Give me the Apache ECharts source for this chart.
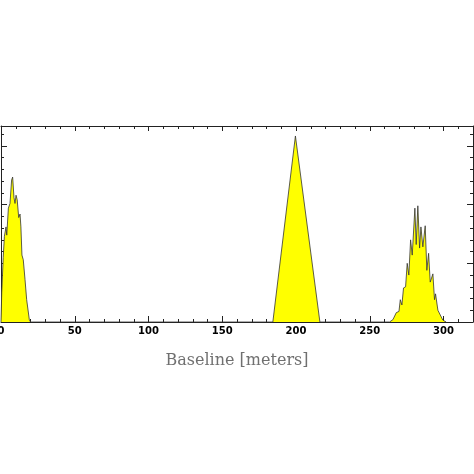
<!DOCTYPE html>
<html>
<head>
<meta charset="utf-8">
<script src="https://cdn.jsdelivr.net/npm/echarts@6/dist/echarts.min.js"></script>
<style>
  html, body { margin: 0; padding: 0; background: #fff; }
  #chart { width: 474px; height: 474px; }
</style>
</head>
<body>
<div id="chart"></div>
<script>
// baseline [m] and counts for the three clusters
const nearX = [0, 0.5, 1.5, 2.3, 3.4, 3.9, 5.0, 6.1, 7.2, 7.9, 8.8, 9.5, 10.2, 11.0, 12.0, 12.9, 13.5, 14.2, 15.1, 16.3, 17.4, 19.2, 20]
const nearY = [0, 2.5, 5.5, 7.3, 8.1, 7.4, 9.7, 10.1, 12.1, 12.35, 10.6, 10.1, 10.8, 10.4, 8.9, 9.2, 8.1, 5.7, 5.3, 3.6, 1.9, 0.2, 0]
const midX = [184.3, 199.6, 200.4, 216.2]
const midY = [0, 15.85, 15.85, 0]
const farX = [263.4, 265.7, 268.0, 269.8, 270.7, 271.8, 272.9, 274.3, 275.4, 276.5, 277.7, 278.8, 280.6, 281.5, 282.6, 283.8, 284.7, 286.0, 287.6, 288.7, 289.9, 291.0, 292.8, 293.9, 294.6, 296.2, 297.3, 299.5, 301.8]
const farY = [0, 0.2, 0.8, 0.9, 1.9, 1.45, 2.9, 3.0, 5.0, 4.0, 7.0, 5.7, 9.7, 6.6, 9.9, 6.3, 8.1, 6.4, 8.2, 4.4, 5.85, 3.4, 4.1, 1.9, 2.4, 1.0, 0.96, 0.17, 0]

const xTicksMajor = 50
const xTicksMinor = 10
const yTicksMajor = 5
const yTicksMinor = 1

const points = []
;[[nearX, nearY], [midX, midY], [farX, farY]].forEach(([xs, ys]) => {
  xs.forEach((x, i) => points.push([x, ys[i]]))
})

const frameColor = '#222'

function xAxis(position, interval, len, withLabels) {
  return {
    type: 'value',
    position: position,
    min: 0,
    max: 320,
    interval: interval,
    splitLine: { show: false },
    axisLine: { show: withLabels !== null, onZero: false, lineStyle: { color: frameColor, width: 1 } },
    axisTick: { show: true, inside: true, length: len, lineStyle: { color: frameColor } },
    axisLabel: withLabels
      ? { show: true, showMaxLabel: false, margin: 4, color: '#000', fontSize: 10, fontWeight: 'bold', fontFamily: 'DejaVu Sans' }
      : { show: false }
  }
}

function yAxis(position, interval, len, line) {
  return {
    type: 'value',
    position: position,
    min: 0,
    max: 16.7,
    interval: interval,
    splitLine: { show: false },
    axisLine: { show: line, onZero: false, lineStyle: { color: frameColor, width: 1 } },
    axisTick: { show: true, inside: true, length: len, lineStyle: { color: frameColor } },
    axisLabel: { show: false }
  }
}

const bottomMain = xAxis('bottom', xTicksMajor, 6, true)
bottomMain.name = 'Baseline [meters]'
bottomMain.nameLocation = 'middle'
bottomMain.nameGap = 31
bottomMain.nameTextStyle = { fontFamily: 'DejaVu Serif', fontSize: 16, color: '#707070' }

const myChart = echarts.init(document.getElementById('chart'))
myChart.setOption({
  animation: false,
  grid: { left: 1, right: 1, top: 126, bottom: 152, containLabel: false, outerBoundsMode: 'none' },
  xAxis: [
    bottomMain,
    xAxis('bottom', xTicksMinor, 3, null),
    xAxis('top', xTicksMajor, 5, false),
    xAxis('top', xTicksMinor, 3, null)
  ],
  yAxis: [
    yAxis('left', yTicksMajor, 6, true),
    yAxis('left', yTicksMinor, 3, false),
    yAxis('right', yTicksMajor, 6, true),
    yAxis('right', yTicksMinor, 3, false)
  ],
  series: [
    {
      type: 'line',
      xAxisIndex: 0,
      yAxisIndex: 0,
      data: points,
      showSymbol: false,
      symbol: 'none',
      lineStyle: { color: '#333', width: 0.8 },
      areaStyle: { color: '#ffff00', opacity: 1 }
    }
  ]
})
</script>
</body>
</html>
